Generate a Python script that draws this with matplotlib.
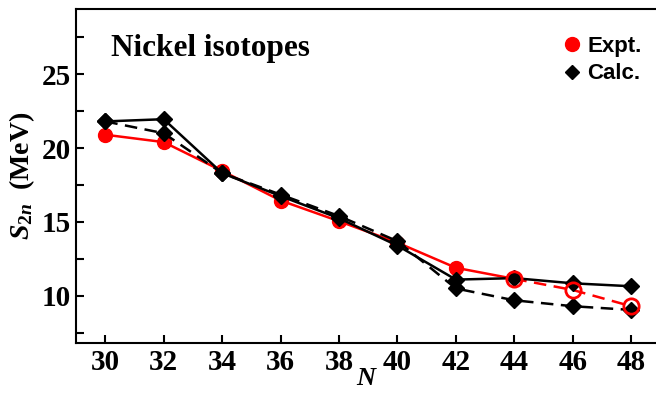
import numpy as np
import matplotlib.pyplot as plt

# data: two-neutron separation energies for Ni isotopes
N = [30, 32, 34, 36, 38, 40, 42, 44, 46, 48]
N_expt = [30, 32, 34, 36, 38, 40, 42, 44]
s2n_expt = [20.9, 20.4, 18.45, 16.45, 15.05, 13.6, 11.9, 11.15]
N_extrap = [44, 46, 48]
s2n_extrap = [11.15, 10.4, 9.3]
s2n_calc1 = [21.8, 21.95, 18.3, 16.75, 15.25, 13.4, 11.1, 11.2, 10.85, 10.65]
s2n_calc2 = [21.8, 21.0, 18.3, 16.85, 15.4, 13.7, 10.5, 9.7, 9.3, 9.05]

serif = 'Liberation Serif'
sans = 'Liberation Sans'
plt.rcParams['mathtext.fontset'] = 'custom'
plt.rcParams['mathtext.it'] = 'Liberation Serif:italic:bold'
plt.rcParams['mathtext.rm'] = 'Liberation Serif:bold'
plt.rcParams['mathtext.bf'] = 'Liberation Serif:bold'

fig = plt.figure(figsize=(6.56, 3.94), dpi=100)
ax = fig.add_axes([0.116, 0.129, 0.884, 0.848])

# experiment (red)
ax.plot(N_expt, s2n_expt, '-', color='red', lw=1.8, zorder=2)
ax.plot(N_expt[:-1], s2n_expt[:-1], 'o', color='red', markersize=10, zorder=2)
ax.plot(N_extrap, s2n_extrap, '--', color='red', lw=1.8, dashes=(5, 3), zorder=2)
ax.plot(N_extrap, s2n_extrap, 'o', markerfacecolor='none', markeredgecolor='red',
        markeredgewidth=2, markersize=11, zorder=4)

# calculations (black)
ax.plot(N, s2n_calc1, 'k-', lw=1.8, zorder=3)
ax.plot(N, s2n_calc2, 'k--', lw=1.8, dashes=(5, 3), zorder=3)
ax.plot(N, s2n_calc1, 'kD', markersize=8.5, zorder=3)
ax.plot(N, s2n_calc2, 'kD', markersize=8.5, zorder=3)

ax.set_xlim(29.0, 48.85)
ax.set_ylim(6.8, 29.4)
ax.set_xticks(N)
ax.set_yticks([10, 15, 20, 25])
ax.set_yticks([7.5, 12.5, 17.5, 22.5, 27.5], minor=True)
ax.tick_params(axis='both', direction='in', length=6, width=1.5, pad=4)
ax.tick_params(axis='y', which='minor', direction='in', length=6, width=1.5)
ax.tick_params(axis='x', which='minor', length=0)
for lab in ax.get_xticklabels() + ax.get_yticklabels():
    lab.set_fontfamily(serif)
    lab.set_fontweight('bold')
    lab.set_fontsize(21)

for sp in ['left', 'bottom', 'top']:
    ax.spines[sp].set_linewidth(1.5)
ax.spines['right'].set_visible(False)

ax.set_xlabel('N', fontfamily=serif, fontstyle='italic', fontweight='bold',
              fontsize=19, labelpad=-6)
ax.set_ylabel(r'$S_{\mathrm{2}n}$  (MeV)', fontfamily=serif,
              fontweight='bold', fontsize=20, labelpad=3)

ax.text(0.06, 0.86, 'Nickel isotopes', transform=ax.transAxes, fontfamily=serif,
        fontweight='bold', fontsize=22.5)

# legend
h1, = ax.plot([], [], 'o', color='red', markersize=10)
h2, = ax.plot([], [], 'kD', markersize=7.5)
leg = ax.legend([h1, h2], ['Expt.', 'Calc.'], loc='upper right',
                bbox_to_anchor=(1.01, 0.98), frameon=False, handletextpad=0.1,
                handlelength=1.2, labelspacing=0.3,
                prop={'family': sans, 'weight': 'bold', 'size': 16})

plt.savefig('out.png', dpi=100)
